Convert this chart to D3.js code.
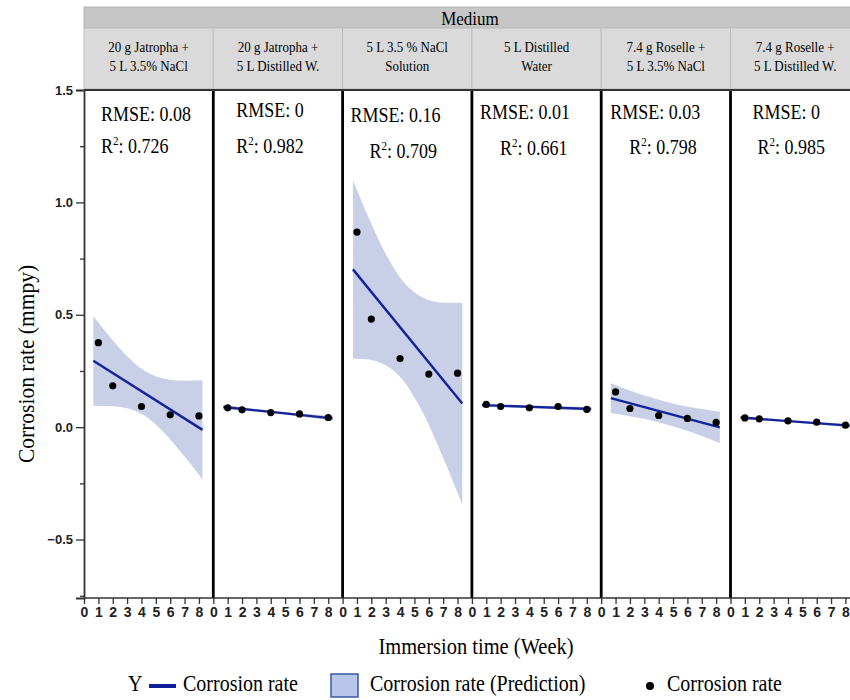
<!DOCTYPE html>
<meta charset="utf-8">
<html>
  <head>
    <style>
      body { margin: 0; background: #fff; }
      text.serif { font-family: "Liberation Serif", "Times New Roman", serif; fill: #000; }
      text.tick { font-family: "Liberation Sans", Arial, sans-serif; font-weight: bold; fill: #222; }
    </style>
    <script src="https://cdn.jsdelivr.net/npm/d3@7"></script>
  </head>
  <body>
    <div id="chart"></div>
    <script>
      // panels (medium), in order
      var media = [
        ["20 g Jatropha +", "5 L 3.5% NaCl"],
        ["20 g Jatropha +", "5 L Distilled  W."],
        ["5 L 3.5 % NaCl", "Solution"],
        ["5 L Distilled", "Water"],
        ["7.4 g Roselle +", "5 L 3.5% NaCl"],
        ["7.4 g Roselle +", "5 L Distilled  W."]
      ];
      var rmse = ["0.08", "0", "0.16", "0.01", "0.03", "0"];
      var r2 = ["0.726", "0.982", "0.709", "0.661", "0.798", "0.985"];

      // measured corrosion rate (mmpy) at these weeks
      var weeks = [1, 2, 4, 6, 8];
      var rate = [
        [0.376, 0.184, 0.092, 0.055, 0.050],
        [0.086, 0.077, 0.065, 0.059, 0.043],
        [0.868, 0.481, 0.305, 0.236, 0.240],
        [0.101, 0.092, 0.086, 0.092, 0.079],
        [0.157, 0.083, 0.052, 0.039, 0.021],
        [0.041, 0.037, 0.028, 0.022, 0.009]
      ];

      // fitted line, start / end (week, value)
      var fitWeeks = [[0.65, 8.25], [0.7, 8.3], [0.72, 8.33], [0.7, 8.3], [0.67, 8.26], [0.7, 8.3]];
      var fitRate = [[0.295, -0.012], [0.090, 0.039], [0.702, 0.105], [0.098, 0.081], [0.129, -0.001], [0.043, 0.007]];

      // prediction band edges read along the week axis
      var bandWeeks = [
        [0.65, 2, 3, 4.2, 5.5, 7, 8.25],
        [0.7, 4.2, 8.3],
        [0.72, 2, 3, 4.2, 5.5, 7, 8.33],
        [0.7, 4.2, 8.3],
        [0.67, 2, 3, 4.2, 5.5, 7, 8.26],
        [0.7, 4.2, 8.3]
      ];
      var bandUpper = [
        [0.495, 0.387, 0.316, 0.252, 0.217, 0.207, 0.209],
        [0.100, 0.072, 0.050],
        [1.099, 0.905, 0.771, 0.649, 0.579, 0.554, 0.554],
        [0.107, 0.094, 0.090],
        [0.195, 0.163, 0.141, 0.119, 0.098, 0.081, 0.069],
        [0.050, 0.029, 0.015]
      ];
      var bandLower = [
        [0.095, 0.093, 0.084, 0.052, -0.019, -0.131, -0.233],
        [0.080, 0.062, 0.028],
        [0.305, 0.299, 0.275, 0.209, 0.075, -0.136, -0.344],
        [0.089, 0.086, 0.072],
        [0.063, 0.049, 0.037, 0.019, -0.006, -0.039, -0.071],
        [0.036, 0.021, -0.001]
      ];

      var yTicks = [-0.5, 0.0, 0.5, 1.0, 1.5];
      var xTicks = [0, 1, 2, 3, 4, 5, 6, 7, 8];

      // where the stats text sits inside each panel [rmseX, rmseY, r2X, r2Y]
      var statPos = [
        [17, 121, 17, 153], [23, 117, 23, 153], [8, 122, 27, 158],
        [8, 119, 28, 155], [9, 119, 28, 154], [22, 119, 27, 154]
      ];

      var W = 850, H = 700;
      var plotLeft = 84, plotTop = 90, plotBottom = 598, panelW = 129.3;
      var lineColor = "#15239a", bandColor = "#c9cfe7";
      var stretchY = 1.12;   // the source picture is a bit taller than wide

      function at(xv, yv) {
        return "translate(" + xv + "," + yv + ") scale(1," + stretchY + ")";
      }

      var svg = d3.select("#chart").append("svg")
          .attr("width", W).attr("height", H);

      var panel = d3.scaleBand().domain(d3.range(media.length))
          .range([plotLeft, plotLeft + panelW * media.length]);
      var x = d3.scaleLinear().domain([0, 9]).range([0, panelW]);
      var y = d3.scaleLinear().domain([-0.76, 1.5]).range([plotBottom, plotTop]);

      // header
      var plotRight = plotLeft + panelW * media.length;
      svg.append("rect").attr("x", plotLeft).attr("y", 7).attr("width", plotRight - plotLeft).attr("height", 21)
          .style("fill", "#c6c6c6").style("stroke", "#b4b4b4");
      svg.append("text").attr("class", "serif").attr("transform", at((plotLeft + plotRight) / 2 - 2, 25))
          .attr("text-anchor", "middle").style("font-size", "17px").text("Medium");

      var head = svg.selectAll(".head").data(media).enter().append("g")
          .attr("transform", function(d, i) { return "translate(" + panel(i) + ",28)"; });
      head.append("rect").attr("width", panelW).attr("height", 61)
          .style("fill", "#dadada").style("stroke", "#bdbdbd");
      head.append("text").attr("class", "serif").attr("transform", at(panelW / 2, 24))
          .attr("text-anchor", "middle").style("font-size", "13px")
          .text(function(d) { return d[0]; });
      head.append("text").attr("class", "serif").attr("transform", at(panelW / 2, 43))
          .attr("text-anchor", "middle").style("font-size", "13px")
          .text(function(d) { return d[1]; });

      // panels
      var g = svg.selectAll(".panel").data(media).enter().append("g")
          .attr("class", "panel")
          .attr("transform", function(d, i) { return "translate(" + panel(i) + ",0)"; });

      var area = d3.area().curve(d3.curveMonotoneX)
          .x(function(d) { return x(d[0]); })
          .y0(function(d) { return y(d[2]); })
          .y1(function(d) { return y(d[1]); });

      g.append("path")
          .attr("d", function(d, i) {
            return area(bandWeeks[i].map(function(w, j) { return [w, bandUpper[i][j], bandLower[i][j]]; }));
          })
          .style("fill", bandColor);

      g.append("line")
          .attr("x1", function(d, i) { return x(fitWeeks[i][0]); })
          .attr("x2", function(d, i) { return x(fitWeeks[i][1]); })
          .attr("y1", function(d, i) { return y(fitRate[i][0]); })
          .attr("y2", function(d, i) { return y(fitRate[i][1]); })
          .style("stroke", lineColor).style("stroke-width", 2.4);

      g.selectAll("circle").data(function(d, i) { return rate[i]; }).enter().append("circle")
          .attr("cx", function(d, j) { return x(weeks[j]); })
          .attr("cy", function(d) { return y(d); })
          .attr("r", 3.6).style("fill", "#000");

      // stats text
      g.append("text").attr("class", "serif").style("font-size", "18px")
          .attr("transform", function(d, i) { return at(statPos[i][0], statPos[i][1]); })
          .text(function(d, i) { return "RMSE: " + rmse[i]; });
      var r2t = g.append("text").attr("class", "serif").style("font-size", "18px")
          .attr("transform", function(d, i) { return at(statPos[i][2], statPos[i][3]); });
      r2t.append("tspan").text("R");
      r2t.append("tspan").attr("dy", -7).style("font-size", "11px").text("2");
      r2t.append("tspan").attr("dy", 7).text(function(d, i) { return ": " + r2[i]; });

      // x axis per panel
      g.append("g").attr("transform", "translate(0," + plotBottom + ")")
          .call(d3.axisBottom(x).tickValues(xTicks).tickSize(6).tickFormat(d3.format("d")))
          .call(function(a) {
            a.select(".domain").remove();
            a.selectAll("line").style("stroke", "#333").style("stroke-width", 1.3);
            a.selectAll("text").attr("class", "tick").attr("y", 9).style("font-size", "14px");
          });

      // panel separators and frame
      svg.selectAll(".sep").data(d3.range(1, media.length)).enter().append("line")
          .attr("x1", function(i) { return panel(i); }).attr("x2", function(i) { return panel(i); })
          .attr("y1", plotTop).attr("y2", plotBottom)
          .style("stroke", "#000").style("stroke-width", 2.8);
      svg.append("line").attr("x1", plotLeft).attr("x2", plotRight).attr("y1", plotTop).attr("y2", plotTop)
          .style("stroke", "#333").style("stroke-width", 2.2);
      svg.append("line").attr("x1", plotLeft).attr("x2", plotRight).attr("y1", plotBottom).attr("y2", plotBottom)
          .style("stroke", "#333").style("stroke-width", 1.5);

      // y axis
      svg.append("g").attr("transform", "translate(" + plotLeft + ",0)")
          .call(d3.axisLeft(y).tickValues(yTicks).tickSize(8).tickFormat(d3.format(".1f")))
          .call(function(a) {
            a.select(".domain").style("stroke", "#333").style("stroke-width", 1.8);
            a.selectAll("line").style("stroke", "#333").style("stroke-width", 1.3);
            a.selectAll("text").attr("class", "tick").attr("x", -11).style("font-size", "13px");
          });
      svg.append("g").attr("transform", "translate(" + plotLeft + ",0)")
          .call(d3.axisLeft(y).tickValues([-0.75, -0.25, 0.25, 0.75, 1.25]).tickSize(4).tickFormat(""))
          .call(function(a) {
            a.select(".domain").remove();
            a.selectAll("line").style("stroke", "#333").style("stroke-width", 1.3);
          });

      // axis titles
      svg.append("text").attr("class", "serif").attr("transform", at(476, 654))
          .attr("text-anchor", "middle").style("font-size", "20.5px").text("Immersion time (Week)");
      svg.append("text").attr("class", "serif")
          .attr("transform", "translate(34,364) rotate(-90) scale(1," + stretchY + ")")
          .attr("text-anchor", "middle").style("font-size", "21.5px").text("Corrosion rate (mmpy)");

      // legend
      var lg = svg.append("g").attr("class", "legend");
      lg.append("text").attr("class", "serif").attr("transform", at(128, 691))
          .style("font-size", "20px").text("Y");
      lg.append("line").attr("x1", 149).attr("x2", 176).attr("y1", 686).attr("y2", 686)
          .style("stroke", "#0f1f9a").style("stroke-width", 4);
      lg.append("text").attr("class", "serif").attr("transform", at(183, 691))
          .style("font-size", "20px").text("Corrosion rate");
      lg.append("rect").attr("x", 331).attr("y", 674).attr("width", 27).attr("height", 23)
          .style("fill", "#b7c6e9").style("stroke", "#3a5aa6").style("stroke-width", 1.5);
      lg.append("text").attr("class", "serif").attr("transform", at(370, 691))
          .style("font-size", "20px").text("Corrosion rate (Prediction)");
      lg.append("circle").attr("cx", 650).attr("cy", 686).attr("r", 4).style("fill", "#000");
      lg.append("text").attr("class", "serif").attr("transform", at(667, 691))
          .style("font-size", "20px").text("Corrosion rate");
    </script>
  </body>
</html>
